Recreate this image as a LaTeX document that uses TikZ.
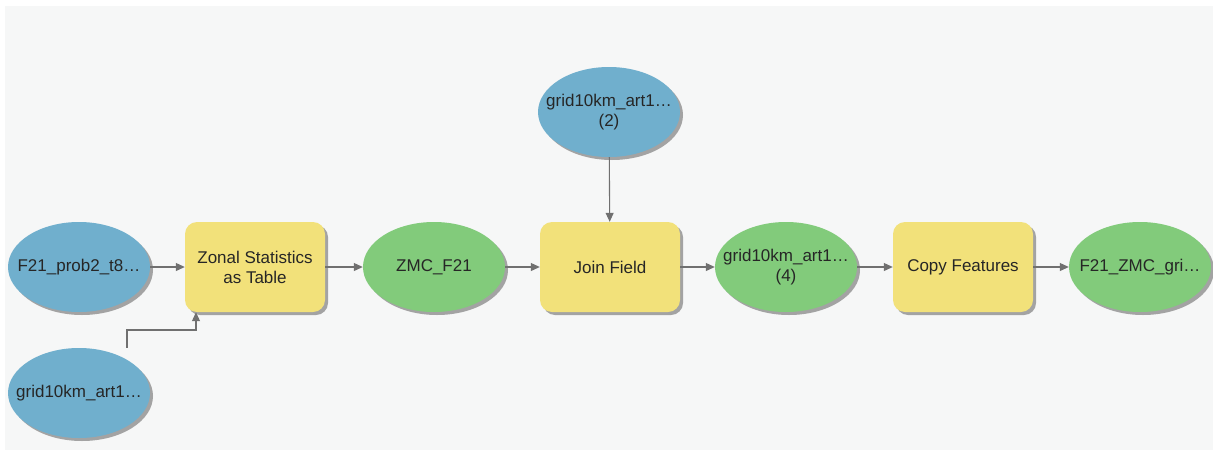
\documentclass[tikz,border=0pt]{standalone}
\usepackage{fontspec}
\setmainfont{Liberation Sans}
\usetikzlibrary{arrows.meta,shapes.geometric,shadows}
\definecolor{bgc}{HTML}{F6F7F7}
\definecolor{bluec}{HTML}{70AFCD}
\definecolor{greenc}{HTML}{82CB7B}
\definecolor{yellowc}{HTML}{F2E17A}
\definecolor{linec}{HTML}{707070}
\definecolor{shadc}{HTML}{9A9A9A}
\newcommand{\zw}[1]{\makebox[0pt]{\begin{tabular}{@{}c@{}}#1\end{tabular}}}
\begin{document}
\begin{tikzpicture}[x=1pt,y=-1pt,
  every node/.style={font=\fontsize{17}{20}\selectfont, text=black!85, align=center},
  shad/.style={drop shadow={shadow xshift=3pt,shadow yshift=-3pt,fill=shadc,opacity=0.9}},
  dataell/.style={ellipse, minimum width=142pt, minimum height=90pt, inner sep=0pt, shad},
  inell/.style={dataell, fill=bluec},
  outell/.style={dataell, fill=greenc},
  toolbox/.style={rectangle, rounded corners=12pt, minimum width=140pt, minimum height=90pt, inner sep=0pt, fill=yellowc, shad},
  conn/.style={draw=linec, line width=1.1pt, -{Triangle[length=9pt,width=8pt]}}]
\useasboundingbox (0,0) rectangle (1213,450);
\fill[white] (0,0) rectangle (1213,450);
\fill[bgc] (5,6) rectangle (1213,450);

\node[inell] (in1) at (79,267) {\zw{F21\_prob2\_t8…}};
\node[inell] (in2) at (79,393) {\zw{grid10km\_art1…}};
\node[toolbox] (zonal) at (255,267) {Zonal Statistics\\as Table};
\node[outell] (zmc) at (434,267) {\zw{ZMC\_F21}};
\node[inell] (in3) at (609,112) {\zw{grid10km\_art1…\\(2)}};
\node[toolbox] (join) at (610,267) {Join Field};
\node[outell] (out4) at (786,267) {\zw{grid10km\_art1…\\(4)}};
\node[toolbox] (copy) at (963,267) {Copy Features};
\node[outell] (final) at (1140,267) {\zw{F21\_ZMC\_gri…}};

\coordinate (c1) at (127,330);
\coordinate (c2) at (196,330);
\draw[conn] (in1) -- (zonal);
\draw[conn] (in2.north -| c1) -- (c1) -- (c2) -- (c2 |- zonal.south);
\draw[conn] (zonal) -- (zmc);
\draw[conn] (zmc) -- (join);
\draw[conn] (in3) -- (join);
\draw[conn] (join) -- (out4);
\draw[conn] (out4) -- (copy);
\draw[conn] (copy) -- (final);
\end{tikzpicture}
\end{document}
